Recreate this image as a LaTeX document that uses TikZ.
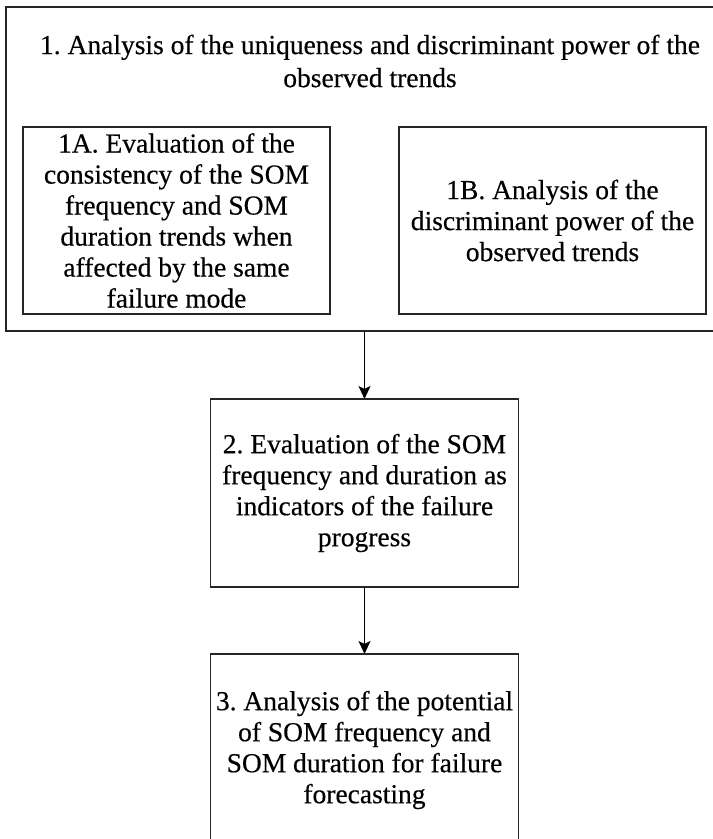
\documentclass[tikz,border=0pt]{standalone}
\usepackage{fontspec}
\setmainfont{Liberation Serif}[FakeBold=0.4]
\usetikzlibrary{arrows.meta}
\frenchspacing
\begin{document}
\begin{tikzpicture}[x=1pt,y=-1pt,
  box/.style={draw=black!85, line width=1.6pt, inner sep=0pt, outer sep=0pt,
    anchor=north west, align=center,
    font=\fontsize{27.5}{31}\selectfont},
  arr/.style={draw=black, line width=1.6pt,
    -{Stealth[length=13pt,width=12pt,inset=3pt]}},
  txt/.style={inner sep=0pt, align=center, font=\fontsize{27.5}{33}\selectfont}]
\useasboundingbox (0,0) rectangle (713,839);
\clip (0,0) rectangle (713,839);
\fill[white] (0,0) rectangle (713,839);
\node[box, minimum width=720pt, minimum height=324pt] (outer) at (6,7) {};
\node[txt] (title) at (370,61) {1. Analysis of the uniqueness and discriminant power of the\\observed trends};
\node[box, minimum width=307pt, minimum height=187pt] (b1a) at (23,127)
  {1A. Evaluation of the\\consistency of the SOM\\frequency and SOM\\duration trends when\\affected by the same\\failure mode};
\node[box, minimum width=307pt, minimum height=187pt] (b1b) at (399,127)
  {1B. Analysis of the\\discriminant power of the\\observed trends};
\node[box, minimum width=308pt, minimum height=188pt] (b2) at (210.5,399)
  {2. Evaluation of the SOM\\frequency and duration as\\indicators of the failure\\progress};
\node[box, minimum width=308pt, minimum height=192pt] (b3) at (210.5,654)
  {3. Analysis of the potential\\of SOM frequency and\\SOM duration for failure\\forecasting};
\draw[arr] (outer.south -| b2.north) -- (b2.north);
\draw[arr] (b2.south) -- (b3.north);
\end{tikzpicture}
\end{document}
